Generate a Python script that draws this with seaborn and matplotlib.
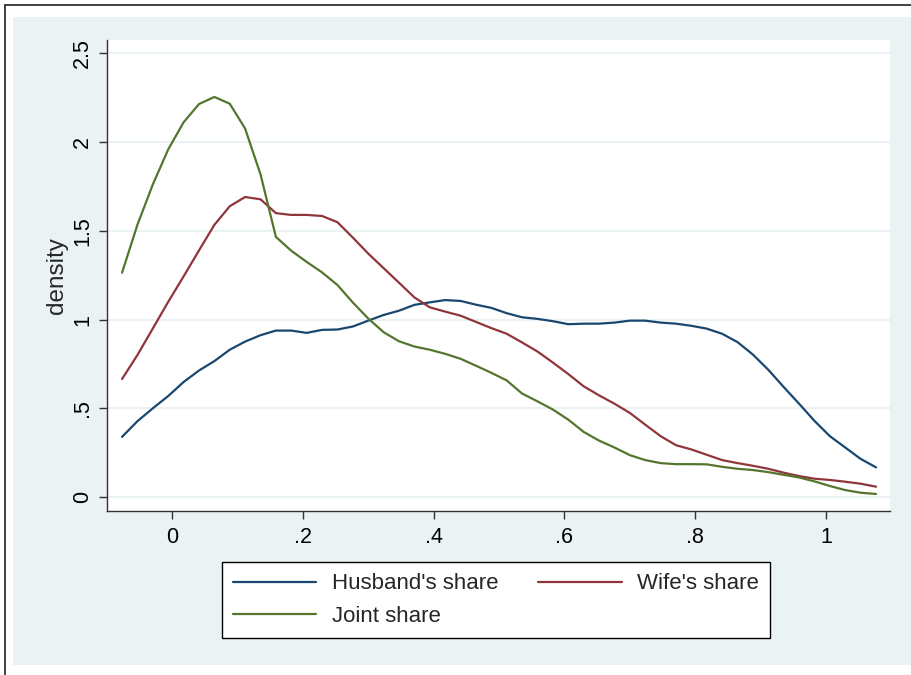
import matplotlib
matplotlib.use("Agg")
import matplotlib.pyplot as plt
from matplotlib.patches import Rectangle
from matplotlib.lines import Line2D
import seaborn as sns
import pandas as pd

# Evaluation grid (share)
x_vals = [-0.0764, -0.0529, -0.0293, -0.0058, 0.0177, 0.0413, 0.0648, 0.0883, 0.1118, 0.1354,
          0.1589, 0.1824, 0.2060, 0.2295, 0.2530, 0.2766, 0.3001, 0.3236, 0.3471, 0.3707,
          0.3942, 0.4177, 0.4413, 0.4648, 0.4883, 0.5119, 0.5354, 0.5589, 0.5824, 0.6060,
          0.6295, 0.6530, 0.6766, 0.7001, 0.7236, 0.7472, 0.7707, 0.7942, 0.8177, 0.8413,
          0.8648, 0.8883, 0.9119, 0.9354, 0.9589, 0.9825, 1.0060, 1.0295, 1.0530, 1.0766]

husband = [0.339, 0.427, 0.500, 0.569, 0.648, 0.713, 0.766, 0.830, 0.876, 0.912,
           0.938, 0.938, 0.925, 0.942, 0.944, 0.961, 0.994, 1.026, 1.050, 1.083,
           1.097, 1.110, 1.105, 1.084, 1.066, 1.036, 1.013, 1.004, 0.991, 0.974,
           0.977, 0.977, 0.983, 0.994, 0.994, 0.983, 0.977, 0.965, 0.949, 0.920,
           0.873, 0.803, 0.717, 0.620, 0.526, 0.429, 0.343, 0.279, 0.215, 0.167]

wife = [0.665, 0.800, 0.950, 1.100, 1.243, 1.390, 1.534, 1.639, 1.691, 1.678,
        1.600, 1.590, 1.590, 1.584, 1.549, 1.462, 1.372, 1.290, 1.208, 1.125,
        1.069, 1.045, 1.022, 0.987, 0.952, 0.920, 0.871, 0.820, 0.758, 0.693,
        0.624, 0.573, 0.526, 0.474, 0.408, 0.343, 0.292, 0.268, 0.238, 0.208,
        0.191, 0.176, 0.159, 0.137, 0.118, 0.103, 0.096, 0.086, 0.075, 0.058]

joint = [1.264, 1.534, 1.762, 1.959, 2.112, 2.215, 2.255, 2.217, 2.077, 1.818,
         1.466, 1.388, 1.325, 1.266, 1.195, 1.096, 1.006, 0.929, 0.878, 0.848,
         0.830, 0.807, 0.779, 0.740, 0.700, 0.657, 0.583, 0.539, 0.493, 0.436,
         0.367, 0.318, 0.279, 0.236, 0.208, 0.191, 0.185, 0.185, 0.184, 0.170,
         0.159, 0.152, 0.140, 0.125, 0.110, 0.088, 0.062, 0.039, 0.024, 0.017]

series_names = ["Husband's share", "Wife's share", "Joint share"]
colors = ["#1A476F", "#90353B", "#55752F"]

x_ticks = [0, 0.2, 0.4, 0.6, 0.8, 1.0]
x_ticklabels = ["0", ".2", ".4", ".6", ".8", "1"]
y_ticks = [0, 0.5, 1.0, 1.5, 2.0, 2.5]
y_ticklabels = ["0", ".5", "1", "1.5", "2", "2.5"]

df = pd.concat([
    pd.DataFrame({"x": x_vals, "density": vals, "series": name})
    for name, vals in zip(series_names, [husband, wife, joint])
], ignore_index=True)

sns.set_style("white")
plt.rcParams["font.family"] = ["Liberation Sans", "DejaVu Sans"]

W, H = 912, 675
fig = plt.figure(figsize=(W / 100, H / 100), dpi=100, facecolor="white")

# Stata-like light background region and outer border
fig.patches.append(Rectangle((13 / W, 1 - 665 / H), 1 - 13 / W, (665 - 17) / H,
                             transform=fig.transFigure, facecolor="#EAF2F3",
                             edgecolor="none", zorder=-5))
fig.lines.append(Line2D([5 / W, 1], [1 - 5 / H, 1 - 5 / H], transform=fig.transFigure,
                        color="#333333", linewidth=1.3, zorder=-4))
fig.lines.append(Line2D([5 / W, 5 / W], [0, 1 - 5 / H], transform=fig.transFigure,
                        color="#333333", linewidth=1.3, zorder=-4))

ax = fig.add_axes([107 / W, 1 - 511 / H, (890 - 107) / W, (511 - 40) / H])
ax.set_zorder(2)
ax.set_facecolor("white")

sns.lineplot(data=df, x="x", y="density", hue="series", palette=colors,
             hue_order=series_names, linewidth=1.6, ax=ax, legend=False, sort=False)

ax.set_xlim(-0.0994, 1.098)
ax.set_ylim(-0.079, 2.576)
ax.set_xticks(x_ticks)
ax.set_xticklabels(x_ticklabels, fontsize=15.5)
ax.set_yticks(y_ticks)
ax.set_yticklabels(y_ticklabels, fontsize=15.5, rotation=90, va="center")
ax.grid(axis="y", color="#EAF2F3", linewidth=1.5)
ax.grid(axis="x", visible=False)
ax.set_axisbelow(True)
for s in ["top", "right"]:
    ax.spines[s].set_visible(False)
for s in ["left", "bottom"]:
    ax.spines[s].set_color("#333333")
    ax.spines[s].set_linewidth(1.0)
ax.tick_params(axis="both", direction="out", length=6, width=1.0, color="#333333",
               labelcolor="black", left=True, bottom=True)
ax.tick_params(axis="x", pad=5.5)
ax.tick_params(axis="y", pad=4)
ax.set_xlabel("")
ax.set_ylabel("density", fontsize=17.5, labelpad=3)

# order so that the 2-column legend reads row-wise like the reference
order = [0, 2, 1]
handles = [Line2D([0], [0], color=colors[i], linewidth=1.6) for i in order]
labels = [series_names[i] for i in order]
leg = fig.legend(handles, labels, loc="center", ncol=2,
                 bbox_to_anchor=(496 / W, 1 - 600 / H), fontsize=16,
                 frameon=True, fancybox=False, shadow=False, edgecolor="black",
                 framealpha=1.0, handlelength=3.75, handletextpad=0.69,
                 columnspacing=1.8, labelspacing=0.5, borderpad=0.5)
leg.set_zorder(3)
leg.get_frame().set_linewidth(1.0)
leg.get_frame().set_facecolor("white")

fig.savefig("out.png", dpi=100, facecolor="white")
